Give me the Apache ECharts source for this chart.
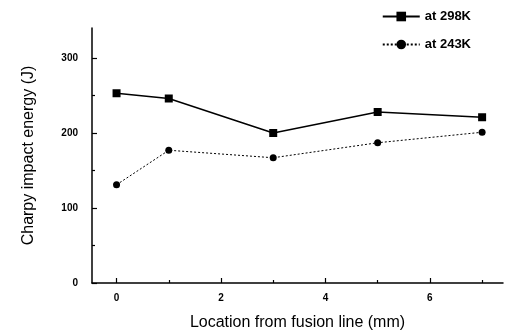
<!DOCTYPE html>
<html>
<head>
<meta charset="utf-8">
<script src="https://cdn.jsdelivr.net/npm/echarts@6/dist/echarts.min.js"></script>
<style>
  html, body { margin: 0; padding: 0; background: #fff; }
  #chart { width: 506px; height: 336px; }
</style>
</head>
<body>
<div id="chart"></div>
<script>
// data
var location_mm = [0, 1, 3, 5, 7];
var energy298 = [253, 246, 200, 228, 221];
var energy243 = [131, 177, 167, 187, 201];
var xMajor = [0, 2, 4, 6];
var xMinor = [1, 3, 5, 7];
var yMajor = [0, 100, 200, 300];
var yMinor = [50, 150, 250];

var chart = echarts.init(document.getElementById('chart'));
var font = 'Liberation Sans, Arial, sans-serif';

function pairs(xs, ys) {
  return xs.map(function (x, i) { return [x, ys[i]]; });
}

var plotBox = { left: 92, right: 3, top: 28, bottom: 53 };

var option = {
  animation: false,
  legend: {
    orient: 'vertical',
    right: 30,
    top: 5,
    itemWidth: 37,
    itemHeight: 12,
    itemGap: 15,
    textStyle: { fontFamily: font, fontSize: 13, fontWeight: 'bold', color: '#000' },
    data: ['at 298K', 'at 243K']
  },
  // second grid sits on top of the first one, only for the short minor ticks
  grid: [plotBox, plotBox],
  xAxis: [{
    type: 'value',
    min: -0.47,
    max: 7.4,
    name: 'Location from fusion line (mm)',
    nameLocation: 'middle',
    nameGap: 32,
    nameTextStyle: { fontFamily: font, fontSize: 16, color: '#000' },
    axisLine: { onZero: false, lineStyle: { color: '#000', width: 1.5 } },
    axisTick: { show: true, inside: true, length: 5, customValues: xMajor, lineStyle: { color: '#000', width: 1.2 } },
    axisLabel: { customValues: xMajor, fontFamily: font, fontSize: 10, fontWeight: 'bold', color: '#000', margin: 10 },
    splitLine: { show: false }
  }, {
    gridIndex: 1,
    type: 'value',
    min: -0.47,
    max: 7.4,
    axisLine: { show: false, onZero: false },
    axisTick: { show: true, inside: true, length: 3, customValues: xMinor, lineStyle: { color: '#000', width: 1.2 } },
    axisLabel: { show: false, customValues: xMinor },
    splitLine: { show: false }
  }],
  yAxis: [{
    type: 'value',
    min: 0,
    max: 340,
    name: 'Charpy impact energy (J)',
    nameLocation: 'middle',
    nameGap: 55,
    nameTextStyle: { fontFamily: font, fontSize: 16, color: '#000' },
    axisLine: { show: true, onZero: false, lineStyle: { color: '#000', width: 1.5 } },
    axisTick: { show: true, inside: true, length: 5, customValues: yMajor, lineStyle: { color: '#000', width: 1.2 } },
    axisLabel: { customValues: yMajor, fontFamily: font, fontSize: 10, fontWeight: 'bold', color: '#000', margin: 14 },
    splitLine: { show: false }
  }, {
    gridIndex: 1,
    type: 'value',
    min: 0,
    max: 340,
    axisLine: { show: false, onZero: false },
    axisTick: { show: true, inside: true, length: 3, customValues: yMinor, lineStyle: { color: '#000', width: 1.2 } },
    axisLabel: { show: false, customValues: yMinor },
    splitLine: { show: false }
  }],
  series: [{
    name: 'at 298K',
    type: 'line',
    data: pairs(location_mm, energy298),
    symbol: 'rect',
    symbolSize: 8,
    itemStyle: { color: '#000' },
    lineStyle: { color: '#000', width: 1.5 }
  }, {
    name: 'at 243K',
    type: 'line',
    data: pairs(location_mm, energy243),
    symbol: 'circle',
    symbolSize: 7,
    itemStyle: { color: '#000' },
    lineStyle: { color: '#000', width: 1, type: [2, 2] }
  }]
};

chart.setOption(option);
</script>
</body>
</html>
